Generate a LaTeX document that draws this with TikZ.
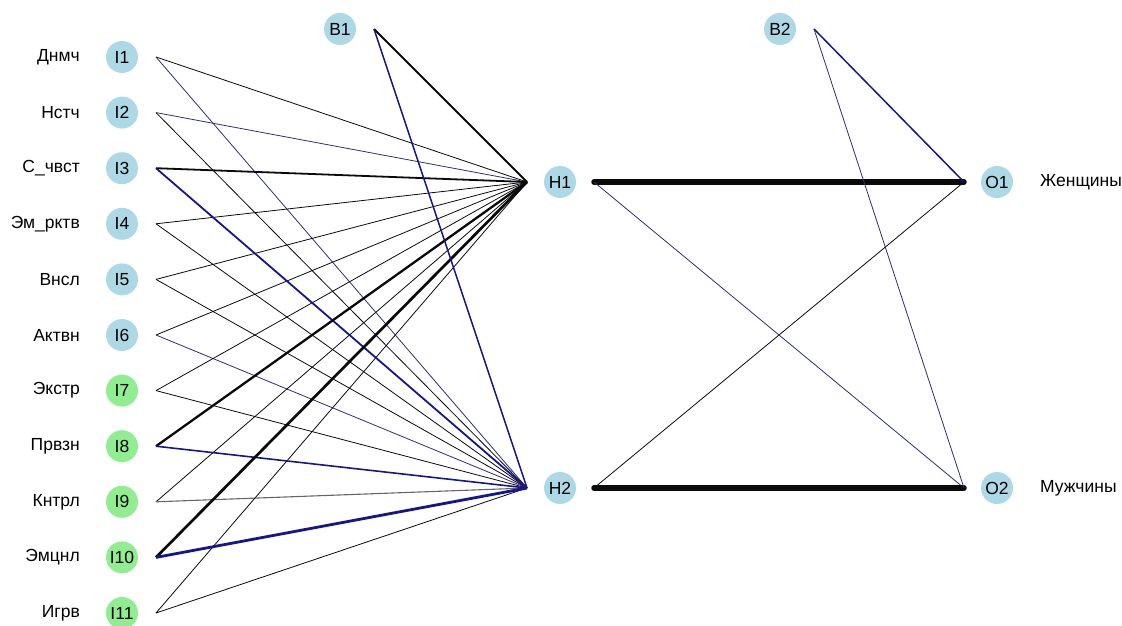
\documentclass[tikz,border=0pt]{standalone}
\usepackage{fontspec}
\setmainfont{Liberation Sans}
\definecolor{nodeblue}{RGB}{173,216,230}
\definecolor{nodegreen}{RGB}{144,238,144}
\definecolor{negcol}{RGB}{22,22,140}
\definecolor{negthin}{RGB}{45,45,120}
\definecolor{poscol}{RGB}{10,10,10}
\begin{document}
\begin{tikzpicture}[x=1pt,y=-1pt,
  nd/.style={circle, minimum size=32pt, inner sep=0pt, font=\fontsize{17.5}{20}\selectfont},
  nb/.style={nd, fill=nodeblue},
  ng/.style={nd, fill=nodegreen},
  lbl/.style={anchor=east, inner sep=0pt, font=\fontsize{17.5}{20}\selectfont},
  olbl/.style={anchor=west, inner sep=0pt, font=\fontsize{17.5}{20}\selectfont},
  pthin/.style={draw=poscol, line width=0.8pt},
  nthin/.style={draw=negthin, line width=0.8pt},
  pw/.style={draw=poscol, line width=#1},
  nw/.style={draw=negcol, line width=#1},
]
\useasboundingbox (0,0) rectangle (1122,626);
% input nodes
\node[nb] (I1) at (122,57) {I1};
\node[nb] (I2) at (122,112.6) {I2};
\node[nb] (I3) at (122,168.2) {I3};
\node[nb] (I4) at (122,223.8) {I4};
\node[nb] (I5) at (122,279.4) {I5};
\node[nb] (I6) at (122,335) {I6};
\node[ng] (I7) at (122,390.6) {I7};
\node[ng] (I8) at (122,446.2) {I8};
\node[ng] (I9) at (122,501.8) {I9};
\node[ng] (I10) at (122,557.4) {I10};
\node[ng] (I11) at (122,613) {I11};
% labels
\node[lbl] (L1) at (80,57) {Днмч};
\node[lbl] (L2) at (80,112.6) {Нстч};
\node[lbl] (L3) at (80,168.2) {С\_чвст};
\node[lbl] (L4) at (80,223.8) {Эм\_рктв};
\node[lbl] (L5) at (80,279.4) {Внсл};
\node[lbl] (L6) at (80,335) {Актвн};
\node[lbl] (L7) at (80,390.6) {Экстр};
\node[lbl] (L8) at (80,446.2) {Првзн};
\node[lbl] (L9) at (80,501.8) {Кнтрл};
\node[lbl] (L10) at (80,557.4) {Эмцнл};
\node[lbl] (L11) at (80,613) {Игрв};
% hidden, bias, output
\node[nb] (B1) at (340,29) {B1};
\node[nb] (H1) at (560,182) {H1};
\node[nb] (H2) at (560,488) {H2};
\node[nb] (B2) at (780,29) {B2};
\node[nb] (O1) at (997,182) {O1};
\node[nb] (O2) at (997,488) {O2};
\node[olbl] (T1) at (1040,182) {Женщины};
\node[olbl] (T2) at (1040,488) {Мужчины};
% connection end points
\foreach \n in {I1,I2,I3,I4,I5,I6,I7,I8,I9,I10,I11,B1,H1,H2,B2}
  \coordinate (\n o) at ([xshift=34pt]\n.center);
\foreach \n in {H1,H2,O1,O2}
  \coordinate (\n i) at ([xshift=-33pt]\n.center);
% input -> hidden (thin)
\draw[pthin] (I1o) -- (H1i);  \draw[nthin] (I1o) -- (H2i);
\draw[nthin] (I2o) -- (H1i);  \draw[pthin] (I2o) -- (H2i);
\draw[pthin] (I4o) -- (H1i);  \draw[pthin] (I4o) -- (H2i);
\draw[pthin] (I5o) -- (H1i);  \draw[pthin] (I5o) -- (H2i);
\draw[pthin] (I6o) -- (H1i);  \draw[nthin] (I6o) -- (H2i);
\draw[pthin] (I7o) -- (H1i);  \draw[pthin] (I7o) -- (H2i);
\draw[pthin] (I9o) -- (H1i);  \draw[draw=gray!80!black, line width=1.1pt] (I9o) -- (H2i);
\draw[pthin] (I11o) -- (H1i); \draw[pthin] (I11o) -- (H2i);
% input -> hidden (heavier)
\draw[pw=1.8pt] (I3o) -- (H1i);  \draw[nw=1.8pt] (I3o) -- (H2i);
\draw[pw=2.3pt] (I8o) -- (H1i);  \draw[nw=1.6pt] (I8o) -- (H2i);
\draw[pw=2.7pt] (I10o) -- (H1i); \draw[nw=2.8pt] (I10o) -- (H2i);
% bias 1
\draw[pw=1.8pt] (B1o) -- (H1i);
\draw[nw=1.5pt] (B1o) -- (H2i);
% hidden -> output
\draw[pw=5.5pt, line cap=round] (H1o) -- (O1i);
\draw[nthin] (H1o) -- (O2i);
\draw[pthin] (H2o) -- (O1i);
\draw[pw=5.5pt, line cap=round] (H2o) -- (O2i);
% bias 2
\draw[nw=1.5pt] (B2o) -- (O1i);
\draw[nthin] (B2o) -- (O2i);
\end{tikzpicture}
\end{document}
